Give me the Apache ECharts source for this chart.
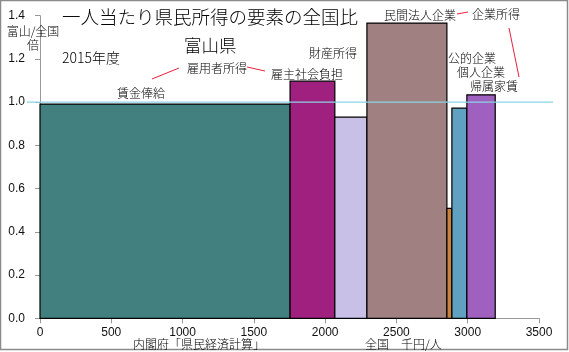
<!DOCTYPE html>
<html><head><meta charset="utf-8">
<script src="https://cdn.jsdelivr.net/npm/echarts@6/dist/echarts.min.js"></script>
<style>html,body{margin:0;padding:0;background:#fff}#c{width:569px;height:352px}</style>
</head><body><div id="c"></div>
<script>
// Data
const categories = ['賃金俸給','雇主社会負担','財産所得','民間法人企業','公的企業','個人企業','帰属家賃'];
const widths = [1754, 314, 225, 561, 35, 105, 199];   // 全国 千円/人
const ratios = [0.991, 1.097, 0.931, 1.366, 0.509, 0.972, 1.034]; // 富山/全国
const colors = ['#428080','#A0207F','#C8C0E6','#A08080','#C8823C','#60A0C0','#A060C0'];
const xTicks = [0, 500, 1000, 1500, 2000, 2500, 3000, 3500];
const yTicks = [0, 0.2, 0.4, 0.6, 0.8, 1.0, 1.2, 1.4];
const refValue = 1.0;

let acc = 0;
const rects = widths.map((w, i) => { const s = acc; acc += w; return [s, s + w, ratios[i], i]; });

const jp = '"Noto Sans CJK JP", sans-serif';
const num = '"Liberation Sans", Arial, sans-serif';

const chart = echarts.init(document.getElementById('c'), null, {renderer: 'canvas'});
const option = {
  animation: false,
  backgroundColor: '#fff',
  grid: {left: 40, right: 30, top: 15.7, bottom: 33.7},
  xAxis: {
    type: 'value', min: xTicks[0], max: xTicks[xTicks.length - 1], interval: 500,
    axisLine: {show: true, lineStyle: {color: '#999', width: 1}},
    axisTick: {show: true, length: 5, lineStyle: {color: '#999'}},
    axisLabel: {color: '#111', fontFamily: num, fontSize: 12, margin: 8, formatter: v => String(v)},
    splitLine: {show: false}
  },
  yAxis: {
    type: 'value', min: yTicks[0], max: yTicks[yTicks.length - 1], interval: 0.2,
    axisLine: {show: true, lineStyle: {color: '#999', width: 1}},
    axisTick: {show: true, length: 5, lineStyle: {color: '#999'}},
    axisLabel: {color: '#111', fontFamily: num, fontSize: 12, margin: 15, formatter: v => v.toFixed(1)},
    splitLine: {show: false}
  },
  series: [{
    type: 'custom',
    data: rects,
    renderItem: function (params, api) {
      const x0 = api.value(0), x1 = api.value(1), y = api.value(2), idx = api.value(3);
      const p0 = api.coord([x0, y]);
      const p1 = api.coord([x1, 0]);
      return {
        type: 'rect',
        shape: {x: p0[0], y: p0[1], width: p1[0] - p0[0], height: p1[1] - p0[1]},
        style: {fill: colors[idx], stroke: '#000', lineWidth: 1.2}
      };
    }
  }]
};
chart.setOption(option);

const yRef = chart.convertToPixel({yAxisIndex: 0}, refValue);
function txt(x, y, t, size, align) {
  return {type: 'text', x: x, y: y, style: {text: t, fill: '#000', font: '300 ' + size + 'px ' + jp, textAlign: align || 'left', textVerticalAlign: 'middle'}, z: 10};
}
function ln(x1, y1, x2, y2) {
  return {type: 'line', shape: {x1: x1, y1: y1, x2: x2, y2: y2}, style: {stroke: '#E8203C', lineWidth: 1}, z: 10};
}
chart.setOption({
  graphic: [
    {type: 'rect', shape: {x: 0.5, y: 0.5, width: 567, height: 349}, style: {fill: 'none', stroke: '#8a8a8a', lineWidth: 1.5}, z: 0},
    {type: 'line', shape: {x1: 27, y1: yRef, x2: 553, y2: yRef}, style: {stroke: '#88D4E4', lineWidth: 1.2}, z: 20},
    txt(62, 17, '一人当たり県民所得の要素の全国比', 18.5),
    txt(184, 45, '富山県', 17.5),
    txt(62, 58, '2015年度', 14),
    txt(33, 31, '富山/全国', 12, 'center'),
    txt(33, 45, '倍', 12, 'center'),
    txt(117, 93, '賃金俸給', 12),
    ln(152, 79, 179, 68),
    txt(187, 68, '雇用者所得', 12),
    ln(247, 67, 265, 71),
    txt(271, 74, '雇主社会負担', 12),
    txt(309, 53, '財産所得', 12),
    txt(384, 15, '民間法人企業', 12),
    ln(457, 14, 468, 12),
    txt(472, 14, '企業所得', 12),
    ln(509, 28, 519, 77),
    txt(448, 58, '公的企業', 12),
    txt(457, 72, '個人企業', 12),
    txt(470, 86, '帰属家賃', 12),
    txt(133, 344, '内閣府「県民経済計算」', 12),
    txt(365, 344, '全国　千円/人', 12)
  ]
});
</script></body></html>
